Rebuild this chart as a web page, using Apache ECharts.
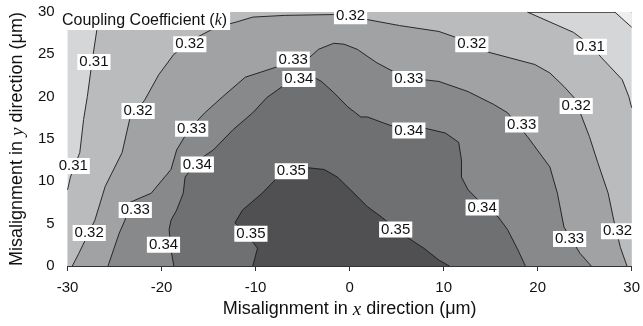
<!DOCTYPE html>
<html>
<head>
<meta charset="utf-8">
<script src="https://cdn.jsdelivr.net/npm/echarts@6/dist/echarts.min.js"></script>
<style>
  html, body { margin: 0; padding: 0; background: #fff; }
  #chart { width: 643px; height: 326px; }
</style>
</head>
<body>
<div id="chart"></div>
<script>
// contour lines, points are [x, y] in um
const c30 = [[28.2, 30], [30, 28.2]];
const c31Left = [[-26.8, 30], [-26.9, 27.8], [-27.4, 24.1], [-27.9, 20], [-28.3, 17.3], [-28.7, 13.4], [-29.7, 10.5], [-30, 9]];
const c31Right = [[18.9, 30], [23.8, 27.6], [25.5, 26.2], [26.8, 24.6], [29.0, 22.0], [29.7, 20], [30, 18.7]];
const c32 = [[-29.5, 0], [-28.8, 1.5], [-27.1, 5.4], [-26.0, 9.4], [-24.2, 13.4], [-23.4, 17.3], [-21.8, 19.6], [-20.3, 22.6],
  [-18.7, 25.0], [-16.6, 26.8], [-14.2, 28.2], [-12.1, 28.8], [-10.3, 29.4], [-6.9, 29.6], [-1.7, 29.7], [1.9, 29.1],
  [5.3, 28.4], [9.5, 27.7], [12.6, 26.5], [14.6, 25.3], [19.7, 23.8], [21.3, 22.8], [22.8, 21.2], [24.1, 19.6],
  [24.6, 17.9], [25.5, 15.3], [26.4, 12.2], [27.5, 8.6], [28.1, 5.4], [28.8, 2.2], [29.5, 0]];
const c33 = [[-25.7, 0], [-24.5, 3.9], [-23.9, 5.4], [-23.4, 7.5], [-21.1, 8.6], [-19.0, 11.4], [-18.4, 13.7], [-17.1, 16.1],
  [-15.4, 18.1], [-13.5, 20], [-11.1, 22.3], [-7.5, 23.6], [-4.3, 24.6], [-3.3, 25.6], [-1.7, 26.3], [-0.6, 26.2],
  [0.8, 25.6], [2.9, 24.0], [4.6, 23.0], [7.9, 22.0], [9.5, 21.8], [12.6, 20.6], [15.3, 19.1], [16.8, 18.1],
  [18.9, 15.3], [21.3, 11.7], [22.1, 8.6], [22.8, 4.6], [24.5, 1.5], [25.7, 0]];
const c34 = [[-18.7, 0], [-19.0, 1.9], [-19.2, 4.3], [-19.0, 5.4], [-18.4, 6.6], [-17.7, 8.6], [-17.5, 10.5], [-16.1, 12.5],
  [-14.5, 13.7], [-12.4, 16.1], [-10.3, 18.1], [-8.8, 19.9], [-6.9, 21.4], [-5.1, 22.0], [-3.8, 22.3], [-3.0, 21.8],
  [-1.7, 20.5], [-0.2, 18.8], [1.2, 17.6], [1.9, 17.6], [3.6, 16.9], [4.6, 16.5], [7.9, 16.3], [10.2, 15.7],
  [11.6, 14.6], [11.9, 12.5], [11.9, 10.5], [12.6, 9.0], [14.2, 7.2], [15.8, 5.8], [16.8, 4.3], [17.9, 1.9], [18.7, 0]];
const c35 = [[-10.3, 0], [-9.8, 2.1], [-10.9, 3.7], [-12.2, 5.1], [-11.4, 6.6], [-9.3, 8.6], [-7.9, 10.2], [-6.2, 11.1],
  [-4.4, 11.6], [-2.7, 11.4], [-1.3, 10.5], [0.1, 9.0], [1.9, 7.0], [3.5, 5.7], [4.8, 4.5], [6.1, 3.4], [7.9, 2.1],
  [9.5, 0.7], [10.6, 0]];

// level labels: [x, y, text]
const levelLabels = [
  [-27.2, 24.1, '0.31'], [-17.0, 26.2, '0.32'], [0.1, 29.5, '0.32'], [13.0, 26.2, '0.32'], [25.6, 25.9, '0.31'],
  [-6.0, 24.4, '0.33'], [-5.4, 22.1, '0.34'], [6.3, 22.1, '0.33'], [-22.5, 18.3, '0.32'], [24.1, 18.9, '0.32'],
  [-16.8, 16.2, '0.33'], [6.3, 16.0, '0.34'], [18.3, 16.7, '0.33'], [-16.2, 12.0, '0.34'], [-29.4, 11.8, '0.31'],
  [-6.2, 11.2, '0.35'], [-22.8, 6.6, '0.33'], [14.1, 6.9, '0.34'], [-27.7, 3.9, '0.32'], [-19.8, 2.5, '0.34'],
  [-10.5, 3.8, '0.35'], [4.9, 4.3, '0.35'], [23.4, 3.2, '0.33'], [28.5, 4.1, '0.32']
];

const fillColors = {
  base: '#d5d6d8',
  c30: '#eeeeee',
  c31: '#babbbd',
  c32: '#a1a2a4',
  c33: '#88898b',
  c34: '#6f7072',
  c35: '#505052'
};

const sans = 'Liberation Sans';
const serif = 'Liberation Serif';

function fillSeries(points, color) {
  return {
    type: 'custom',
    silent: true,
    clip: true,
    data: [0],
    renderItem: (params, api) => ({
      type: 'polygon',
      shape: { points: points.map(p => api.coord(p)) },
      style: { fill: color }
    })
  };
}

function lineSeries(points) {
  return {
    type: 'line',
    data: points,
    showSymbol: false,
    silent: true,
    lineStyle: { color: '#1a1a1a', width: 0.9 },
    z: 3
  };
}

const region30 = c30.concat([[30, 30]]);
const region31 = c31Left.concat([[-30, 0], [30, 0]], c31Right.slice().reverse());

let chart = echarts.init(document.getElementById('chart'));

chart.setOption({
  animation: false,
  title: {
    text: 'Coupling Coefficient ({k|k})',
    left: 59,
    top: 12,
    padding: [1, 3, 1, 3],
    backgroundColor: '#fff',
    textStyle: {
      fontFamily: sans,
      fontSize: 16,
      fontWeight: 'normal',
      color: '#111',
      rich: { k: { fontFamily: serif, fontStyle: 'italic', fontSize: 16, color: '#111' } }
    }
  },
  grid: {
    left: 62, right: 7, top: 12, bottom: 60,
    show: true, backgroundColor: fillColors.base, borderWidth: 0
  },
  xAxis: [{
    type: 'value',
    min: -30, max: 30, interval: 10,
    name: 'Misalignment in {i|x} direction (\u03bcm)',
    nameLocation: 'middle',
    nameGap: 34,
    nameTextStyle: {
      fontFamily: sans, fontSize: 18, color: '#111',
      rich: { i: { fontFamily: serif, fontStyle: 'italic', fontSize: 19, color: '#111' } }
    },
    axisLine: { lineStyle: { color: '#333', width: 1 } },
    axisTick: { length: 5, lineStyle: { color: '#333' } },
    axisLabel: { fontFamily: sans, fontSize: 15, color: '#111', margin: 14 },
    splitLine: { show: false }
  }, {
    type: 'value',
    position: 'top',
    min: -30, max: 30,
    axisLine: { lineStyle: { color: '#555', width: 1 } },
    axisTick: { show: false },
    axisLabel: { show: false },
    splitLine: { show: false }
  }],
  yAxis: {
    type: 'value',
    min: 0, max: 30, interval: 5,
    name: 'Misalignment in {i|y} direction (\u03bcm)',
    nameLocation: 'middle',
    nameRotate: 90,
    nameGap: 40,
    nameTextStyle: {
      fontFamily: sans, fontSize: 18, color: '#111',
      rich: { i: { fontFamily: serif, fontStyle: 'italic', fontSize: 19, color: '#111' } }
    },
    axisLine: { lineStyle: { color: '#333', width: 1 } },
    axisTick: { length: 5, lineStyle: { color: '#333' } },
    axisLabel: { fontFamily: sans, fontSize: 15, color: '#111', margin: 13 },
    splitLine: { show: false }
  },
  series: [
    fillSeries(region30, fillColors.c30),
    fillSeries(region31, fillColors.c31),
    fillSeries(c32, fillColors.c32),
    fillSeries(c33, fillColors.c33),
    fillSeries(c34, fillColors.c34),
    fillSeries(c35, fillColors.c35),
    lineSeries(c30),
    lineSeries(c31Left),
    lineSeries(c31Right),
    lineSeries(c32),
    lineSeries(c33),
    lineSeries(c34),
    lineSeries(c35),
    {
      type: 'scatter',
      data: levelLabels,
      symbolSize: 0,
      silent: true,
      z: 5,
      itemStyle: { opacity: 1 },
      label: {
        show: true,
        position: 'inside',
        formatter: p => p.value[2],
        fontFamily: sans,
        fontSize: 15,
        color: '#111',
        opacity: 1,
        backgroundColor: '#ffffff',
        padding: [1, 2, 0, 2]
      }
    }
  ]
});

window.addEventListener('resize', function() {
  chart.resize();
});
</script>
</body>
</html>
